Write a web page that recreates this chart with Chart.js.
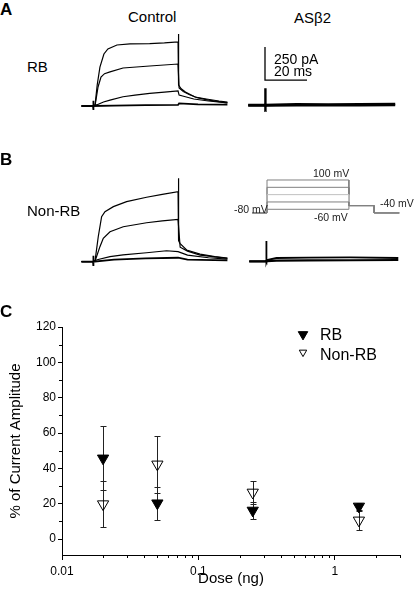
<!DOCTYPE html>
<html><head><meta charset="utf-8">
<script src="https://cdn.jsdelivr.net/npm/chart.js@4.4.1/dist/chart.umd.min.js"></script>
<style>
html,body{margin:0;padding:0;background:#fff;}
#root{position:relative;width:414px;height:595px;overflow:hidden;font-family:'Liberation Sans',Arial,sans-serif;color:#000;}
.lbl{position:absolute;white-space:nowrap;}
.cv{position:absolute;}
</style></head><body><div id="root"></div>
<script>
// ---------- Panel C data ----------
const doses = [0.02, 0.05, 0.25, 1.5];
const rbMean = [45.7, 20.3, 16.2, 18.5];
const rbErr = [18.2, 9.4, 4.7, 2];
const nonRbMean = [19.8, 42.3, 26.4, 10.6];
const nonRbErr = [13, 16, 6.5, 5.4];
const xMajorTicks = [0.01, 0.1, 1];
const xTickLabels = ['0.01', '0.1', '1'];
const xMinorTicks = [0.02,0.03,0.04,0.05,0.06,0.07,0.08,0.09,0.2,0.3,0.4,0.5,0.6,0.7,0.8,0.9,2,3];
const yMajorTicks = [0, 20, 40, 60, 80, 100, 120];
const yMinorTicks = [10, 30, 50, 70, 90, 110];

// ---------- Traces (time in ms, current in pA) ----------
// Panel A, control
const aCtrlT1 = [-5.5, 0, 1, 2, 3.3, 5.2, 7.1, 11.4, 17.6, 27, 34, 40.5, 40.6, 40.9, 42, 44, 48.6, 54, 60, 64];
const aCtrlI1 = [0, 0, 10, 159, 295, 394, 432, 462, 470, 473, 478, 485, 545, 159, 130, 106, 68, 53, 38, 30];
const aCtrlT2 = [-5.5, 0, 1, 2.4, 3.8, 5.5, 8.1, 14.3, 27, 40.5, 41, 43, 46, 50, 55, 64];
const aCtrlI2 = [0, 0, 5, 144, 220, 245, 258, 288, 303, 318, 136, 110, 85, 61, 45, 23];
const aCtrlT3 = [-5.5, 0, 2, 5, 8.1, 14.3, 20, 27, 34, 40.5, 41, 44, 48, 55, 64];
const aCtrlI3 = [0, 0, 10, 30, 45, 70, 82, 96, 105, 114, 83, 70, 53, 38, 23];
const aCtrlT4 = [-5.5, 0, 0.1, 0.2, 0.3, 10, 25, 40.5, 41, 50, 64];
const aCtrlI4 = [0, 0, 40, -30, 0, 3, 6, 8, 20, 12, 10];
// Panel A, AS-beta2
const aDrugT = [-8, 0, 0.1, 0.3, 0.5, 15, 30, 45, 62];
const aDrugI1 = [0, 0, 126, -13, 0, 6, 4, 6, 8];
const aDrugI2 = [-4, -4, -4, -2, -4, -2, -3, -2, 0];
// Scale bar (250 pA, 20 ms)
const barT = [0, 0, 20];
const barI = [439, 189, 189];
// Panel B, control
const bCtrlT1 = [-5.5, 0, 1, 2.5, 4.1, 5.7, 9.7, 16, 25.5, 33, 40.5, 40.6, 40.9, 41.4, 44.6, 51, 58, 64];
const bCtrlI1 = [0, 0, 10, 189, 341, 379, 417, 455, 488, 510, 530, 632, 160, 139, 89, 58, 38, 28];
const bCtrlT2 = [-5.5, 0, 1, 3.3, 4.9, 8.1, 14.4, 25.5, 33, 40.5, 41.5, 45, 51, 64];
const bCtrlI2 = [0, 0, 5, 114, 177, 227, 265, 295, 310, 321, 110, 80, 50, 25];
const bCtrlT3 = [-5.5, 0, 2, 8.1, 14.3, 25.5, 35, 40.5, 45, 55, 64];
const bCtrlI3 = [0, 0, 15, 38, 51, 68, 83, 76, 50, 30, 20];
const bCtrlT4 = [-5.5, 0, 0.1, 0.2, 0.3, 10, 25, 40.5, 45, 64];
const bCtrlI4 = [0, 0, 45, -35, 0, 15, 25, 30, 15, 10];
// Panel B, AS-beta2
const bDrugT = [-8, 0, 0.1, 0.3, 0.5, 5, 20, 40, 63];
const bDrugI1 = [-10, -10, 144, -15, 0, 15, 18, 20, 15];
const bDrugI2 = [-10, -10, -10, -8, -8, -5, -3, -2, 0];
// Voltage protocol (ms, mV)
const protoT = [-7, 0, 0, 39, 39, 51, 51, 63];
const protoLevels = [-60, -20, 20, 60, 100];
const holdV = -80, tailV = -40;

// ---------- helpers ----------
const root = document.getElementById('root');
const FONT = "'Liberation Sans', Arial, sans-serif";
function addText(t, x, base, size, weight, color){
  const d = document.createElement('div');
  d.className = 'lbl'; d.textContent = t;
  d.style.left = x + 'px'; d.style.top = (base - 0.8465*size) + 'px';
  d.style.fontSize = size + 'px'; d.style.lineHeight = size + 'px';
  if (weight) d.style.fontWeight = weight;
  if (color) d.style.color = color;
  root.appendChild(d);
}
function addCanvas(r){
  const c = document.createElement('canvas'); c.className = 'cv';
  c.width = r.w; c.height = r.h;
  c.style.left = r.x + 'px'; c.style.top = r.y + 'px';
  c.style.width = r.w + 'px'; c.style.height = r.h + 'px';
  root.appendChild(c); return c;
}
const MS_PX = 2.1;           // px per ms
const PA_PX = 33 / 250;      // px per pA
const MV_PX = 29.3 / 160;    // px per mV
function traceChart(rect, origin, xPx, yPx, sets){
  const c = addCanvas(rect);
  new Chart(c, {
    type: 'line',
    data: { datasets: sets.map(s => ({
      data: s.t.map((t, i) => ({x: t, y: s.v[i]})),
      borderColor: s.color || '#000', borderWidth: s.w || 1.2,
      pointRadius: 0, tension: 0, fill: false, clip: false
    }))},
    options: {
      responsive: false, animation: false, events: [],
      layout: {padding: 0},
      plugins: {legend: {display: false}, tooltip: {enabled: false}},
      scales: {
        x: {type: 'linear', display: false, min: (rect.x - origin.x)/xPx, max: (rect.x + rect.w - origin.x)/xPx},
        y: {type: 'linear', display: false, min: (origin.y - (rect.y + rect.h))/yPx, max: (origin.y - rect.y)/yPx}
      }
    }
  });
}

// ---------- trace panels ----------
traceChart({x:78, y:28, w:155, h:84}, {x:93, y:106}, MS_PX, PA_PX, [
  {t: aCtrlT1, v: aCtrlI1}, {t: aCtrlT2, v: aCtrlI2}, {t: aCtrlT3, v: aCtrlI3}, {t: aCtrlT4, v: aCtrlI4, w: 1.8}
]);
traceChart({x:244, y:40, w:165, h:72}, {x:265, y:105}, MS_PX, PA_PX, [
  {t: aDrugT, v: aDrugI1, w: 2.4}, {t: aDrugT, v: aDrugI2, w: 2.4},
  {t: barT, v: barI, w: 1.3}
]);
traceChart({x:78, y:170, w:155, h:96}, {x:93, y:261.7}, MS_PX, PA_PX, [
  {t: bCtrlT1, v: bCtrlI1}, {t: bCtrlT2, v: bCtrlI2}, {t: bCtrlT3, v: bCtrlI3}, {t: bCtrlT4, v: bCtrlI4, w: 1.8}
]);
traceChart({x:244, y:230, w:165, h:40}, {x:266, y:260}, MS_PX, PA_PX, [
  {t: bDrugT, v: bDrugI1, w: 1.8}, {t: bDrugT, v: bDrugI2, w: 2.2}
]);
traceChart({x:248, y:172, w:160, h:50}, {x:267, y:198.3}, MS_PX, MV_PX,
  protoLevels.map((L, k) => ({
    t: protoT, v: [holdV, holdV, L, L, tailV, tailV, holdV, holdV],
    color: k === 2 ? '#c0c0c0' : '#808080', w: 1
  }))
);

// ---------- panel C ----------
const errorBars = {
  id: 'errorBars',
  beforeDatasetsDraw(chart){
    const {ctx} = chart, x = chart.scales.x, y = chart.scales.y;
    ctx.save(); ctx.strokeStyle = '#222'; ctx.lineWidth = 1;
    chart.data.datasets.forEach(ds => {
      ds.data.forEach((p, i) => {
        const e = ds.errors[i];
        const px = Math.round(x.getPixelForValue(p.x)) + 0.5;
        const yt = Math.round(y.getPixelForValue(p.y + e)) + 0.5;
        const yb = Math.round(y.getPixelForValue(p.y - e)) + 0.5;
        ctx.beginPath();
        ctx.moveTo(px, yt); ctx.lineTo(px, yb);
        ctx.moveTo(px - 3, yt); ctx.lineTo(px + 3, yt);
        ctx.moveTo(px - 3, yb); ctx.lineTo(px + 3, yb);
        ctx.stroke();
      });
    });
    ctx.restore();
  }
};
const minorTicks = {
  id: 'minorTicks',
  afterDraw(chart){
    const {ctx, chartArea} = chart, x = chart.scales.x, y = chart.scales.y;
    ctx.save(); ctx.strokeStyle = '#000'; ctx.lineWidth = 1;
    ctx.beginPath();
    xMinorTicks.forEach(v => {
      const px = Math.round(x.getPixelForValue(v)) + 0.5;
      ctx.moveTo(px, chartArea.bottom); ctx.lineTo(px, chartArea.bottom + 3);
    });
    yMinorTicks.forEach(v => {
      const py = Math.round(y.getPixelForValue(v)) + 0.5;
      ctx.moveTo(chartArea.left, py); ctx.lineTo(chartArea.left - 3, py);
    });
    ctx.stroke(); ctx.restore();
  }
};
function downTri(ctx, cx, cy, r, fill){
  ctx.beginPath();
  ctx.moveTo(cx, cy + r);
  ctx.lineTo(cx - r*0.866, cy - r/2);
  ctx.lineTo(cx + r*0.866, cy - r/2);
  ctx.closePath();
  if (fill) { ctx.fillStyle = '#000'; ctx.fill(); }
  ctx.strokeStyle = '#000'; ctx.lineWidth = 1; ctx.stroke();
}
const legendBox = {
  id: 'legendBox',
  afterDraw(chart){
    const ctx = chart.ctx;
    const rows = [{sy: 34.4, ty: 39.5, r: 5.5}, {sy: 52.3, ty: 60, r: 4.3}];
    ctx.save();
    chart.data.datasets.forEach((ds, i) => {
      const row = rows[i];
      downTri(ctx, 303, row.sy, row.r, ds.filled);
      ctx.fillStyle = '#000'; ctx.font = "16px " + FONT;
      ctx.textBaseline = 'alphabetic'; ctx.textAlign = 'left';
      ctx.fillText(ds.label, 320, row.ty);
    });
    ctx.restore();
  }
};

const cC = addCanvas({x:0, y:300, w:414, h:295});
new Chart(cC, {
  type: 'scatter',
  data: { datasets: [
    {label: 'RB', filled: true, errors: rbErr,
     data: doses.map((d, i) => ({x: d, y: rbMean[i]})),
     pointStyle: 'triangle', pointRotation: 180, pointRadius: 6.5,
     pointBackgroundColor: '#000', pointBorderColor: '#000', pointBorderWidth: 1},
    {label: 'Non-RB', filled: false, errors: nonRbErr,
     data: doses.map((d, i) => ({x: d, y: nonRbMean[i]})),
     pointStyle: 'triangle', pointRotation: 180, pointRadius: 6.5,
     pointBackgroundColor: 'rgba(255,255,255,0)', pointBorderColor: '#000', pointBorderWidth: 1}
  ]},
  options: {
    responsive: false, animation: false, events: [],
    layout: {padding: {top: 27, right: 14, left: 0, bottom: 0}},
    plugins: {legend: {display: false}, tooltip: {enabled: false}},
    scales: {
      x: {
        type: 'logarithmic', min: 0.01, max: 3,
        afterBuildTicks: s => { s.ticks = xMajorTicks.map(v => ({value: v})); },
        afterFit: s => { s.height = 40; },
        ticks: {callback: (v, i) => xTickLabels[i], font: {family: FONT, size: 12}, color: '#000', padding: 4, maxRotation: 0, autoSkip: false},
        grid: {drawOnChartArea: false, drawTicks: true, tickLength: 5, color: '#000'},
        border: {display: true, color: '#000', width: 1},
        title: {display: true, text: 'Dose (ng)', font: {family: FONT, size: 15}, color: '#000', padding: {top: 0, bottom: 7}}
      },
      y: {
        type: 'linear', min: -9, max: 120,
        afterBuildTicks: s => { s.ticks = yMajorTicks.map(v => ({value: v})); },
        afterFit: s => { s.width = 62; },
        ticks: {font: {family: FONT, size: 12}, color: '#000', padding: 2},
        grid: {drawOnChartArea: false, drawTicks: true, tickLength: 4, color: '#000'},
        border: {display: true, color: '#000', width: 1},
        title: {display: true, text: '% of Current Amplitude', font: {family: FONT, size: 15}, color: '#000', padding: {top: 7, bottom: 0}}
      }
    }
  },
  plugins: [errorBars, minorTicks, legendBox]
});

// ---------- text labels ----------
addText('A', 0, 15, 17, 'bold');
addText('B', 0, 165, 17, 'bold');
addText('C', 0, 317, 17, 'bold');
addText('Control', 128, 22, 15);
addText('ASβ2', 294, 23, 15);
addText('RB', 27, 72, 15);
addText('Non-RB', 27, 216, 15);
addText('250 pA', 274, 63.5, 14);
addText('20 ms', 274, 76, 14);
addText('100 mV', 313, 177, 10.5, null, '#222');
addText('-80 mV', 234, 213, 10.5, null, '#222');
addText('-60 mV', 314, 221, 10.5, null, '#222');
addText('-40 mV', 380, 207, 10.5, null, '#222');
</script></body></html>
